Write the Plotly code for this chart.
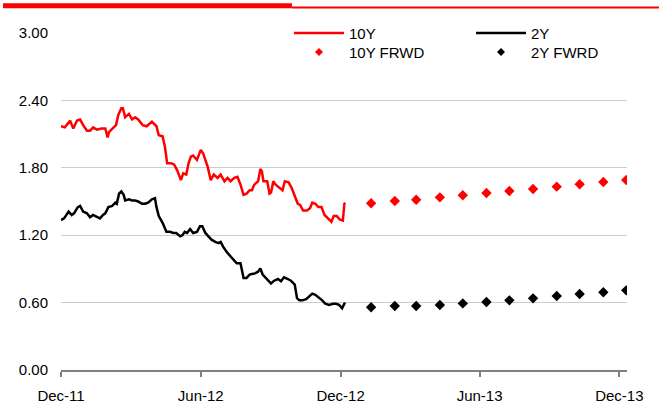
import plotly.graph_objects as go

# historical yields
dates_10y = ['2011-12-01', '2011-12-06', '2011-12-13', '2011-12-17', '2011-12-22', '2011-12-26', '2011-12-30',
             '2012-01-04', '2012-01-08', '2012-01-12', '2012-01-17', '2012-01-23', '2012-01-28', '2012-01-31',
             '2012-02-02', '2012-02-06', '2012-02-11', '2012-02-14', '2012-02-18', '2012-02-20', '2012-02-23',
             '2012-02-28', '2012-03-03', '2012-03-07', '2012-03-11', '2012-03-17', '2012-03-22', '2012-03-29',
             '2012-04-02', '2012-04-04', '2012-04-07', '2012-04-12', '2012-04-15', '2012-04-18', '2012-04-23',
             '2012-04-27', '2012-05-01', '2012-05-06', '2012-05-09', '2012-05-13', '2012-05-16', '2012-05-19',
             '2012-05-22', '2012-05-27', '2012-06-01', '2012-06-04', '2012-06-10', '2012-06-14', '2012-06-18',
             '2012-06-23', '2012-06-27', '2012-07-02', '2012-07-06', '2012-07-10', '2012-07-15', '2012-07-19',
             '2012-07-23', '2012-07-27', '2012-07-31', '2012-08-04', '2012-08-07', '2012-08-10', '2012-08-15',
             '2012-08-18', '2012-08-20', '2012-08-22', '2012-08-27', '2012-08-30', '2012-09-01', '2012-09-04',
             '2012-09-07', '2012-09-11', '2012-09-16', '2012-09-19', '2012-09-24', '2012-09-28', '2012-10-02',
             '2012-10-06', '2012-10-09', '2012-10-13', '2012-10-18', '2012-10-22', '2012-10-25', '2012-10-29',
             '2012-11-02', '2012-11-06', '2012-11-10', '2012-11-14', '2012-11-19', '2012-11-22', '2012-11-26',
             '2012-11-30', '2012-12-04', '2012-12-06', '2012-12-07']
yield_10y = [2.17, 2.16, 2.22, 2.15, 2.22, 2.23, 2.18,
             2.13, 2.13, 2.16, 2.14, 2.15, 2.15, 2.07,
             2.12, 2.15, 2.18, 2.27, 2.33, 2.33, 2.25,
             2.28, 2.23, 2.25, 2.23, 2.18, 2.17, 2.21,
             2.18, 2.17, 2.09, 2.08, 1.99, 1.84, 1.84,
             1.83, 1.78, 1.69, 1.75, 1.74, 1.84, 1.90,
             1.91, 1.87, 1.96, 1.93, 1.81, 1.69, 1.74,
             1.71, 1.74, 1.68, 1.71, 1.68, 1.71, 1.72,
             1.65, 1.56, 1.57, 1.60, 1.60, 1.65, 1.68,
             1.79, 1.77, 1.68, 1.68, 1.57, 1.58, 1.68,
             1.65, 1.63, 1.60, 1.68, 1.67, 1.62, 1.54,
             1.48, 1.47, 1.42, 1.42, 1.44, 1.49, 1.48,
             1.45, 1.45, 1.38, 1.35, 1.32, 1.37, 1.37,
             1.34, 1.33, 1.48, 1.49]

dates_2y = ['2011-12-01', '2011-12-05', '2011-12-11', '2011-12-15', '2011-12-18', '2011-12-23', '2011-12-26',
            '2011-12-30', '2012-01-04', '2012-01-08', '2012-01-12', '2012-01-17', '2012-01-21', '2012-01-25',
            '2012-01-28', '2012-02-01', '2012-02-06', '2012-02-10', '2012-02-12', '2012-02-15', '2012-02-18',
            '2012-02-21', '2012-02-23', '2012-02-28', '2012-03-03', '2012-03-07', '2012-03-11', '2012-03-16',
            '2012-03-20', '2012-03-24', '2012-03-29', '2012-04-02', '2012-04-04', '2012-04-07', '2012-04-12',
            '2012-04-17', '2012-04-22', '2012-04-26', '2012-04-30', '2012-05-05', '2012-05-08', '2012-05-11',
            '2012-05-14', '2012-05-18', '2012-05-22', '2012-05-27', '2012-05-31', '2012-06-03', '2012-06-07',
            '2012-06-11', '2012-06-15', '2012-06-20', '2012-06-24', '2012-06-27', '2012-06-30', '2012-07-05',
            '2012-07-09', '2012-07-14', '2012-07-18', '2012-07-23', '2012-07-27', '2012-07-31', '2012-08-04',
            '2012-08-07', '2012-08-11', '2012-08-15', '2012-08-18', '2012-08-21', '2012-08-24', '2012-08-29',
            '2012-09-01', '2012-09-05', '2012-09-10', '2012-09-14', '2012-09-18', '2012-09-23', '2012-09-27',
            '2012-10-02', '2012-10-05', '2012-10-08', '2012-10-12', '2012-10-17', '2012-10-21', '2012-10-25',
            '2012-10-29', '2012-11-02', '2012-11-07', '2012-11-11', '2012-11-16', '2012-11-21', '2012-11-25',
            '2012-11-29', '2012-12-03', '2012-12-06', '2012-12-07']
yield_2y = [1.335, 1.35, 1.41, 1.38, 1.395, 1.45, 1.46,
            1.41, 1.395, 1.36, 1.38, 1.36, 1.35, 1.38,
            1.395, 1.45, 1.46, 1.49, 1.48, 1.57, 1.59,
            1.56, 1.51, 1.52, 1.51, 1.51, 1.50, 1.48,
            1.48, 1.49, 1.52, 1.53, 1.45, 1.37, 1.31,
            1.23, 1.23, 1.22, 1.22, 1.19, 1.20, 1.23,
            1.22, 1.255, 1.22, 1.23, 1.28, 1.28, 1.22,
            1.19, 1.16, 1.14, 1.13, 1.14, 1.10, 1.05,
            1.02, 0.98, 0.95, 0.95, 0.82, 0.82, 0.85,
            0.855, 0.86, 0.875, 0.905, 0.85, 0.83, 0.79,
            0.77, 0.795, 0.81, 0.79, 0.825, 0.81, 0.795,
            0.76, 0.64, 0.62, 0.62, 0.63, 0.66, 0.68,
            0.67, 0.65, 0.62, 0.59, 0.58, 0.59, 0.59,
            0.58, 0.55, 0.59, 0.60]

# forward rates, monthly
dates_fwd = ['2013-01-10', '2013-02-10', '2013-03-10', '2013-04-10', '2013-05-10', '2013-06-10',
             '2013-07-10', '2013-08-10', '2013-09-10', '2013-10-10', '2013-11-10', '2013-12-10']
fwd_10y = [1.484, 1.504, 1.516, 1.537, 1.555, 1.576, 1.594, 1.611, 1.632, 1.653, 1.674, 1.691]
fwd_2y = [0.558, 0.570, 0.570, 0.579, 0.593, 0.605, 0.620, 0.638, 0.659, 0.677, 0.692, 0.709]

tick_dates = ['2011-12-01', '2012-06-01', '2012-12-01', '2013-06-01', '2013-12-01']
y_ticks = [0, 0.6, 1.2, 1.8, 2.4, 3.0]

FONT = 'Liberation Sans, Arial, sans-serif'
RED = '#ff0000'
BLACK = '#000000'

fig = go.Figure()
fig.add_scatter(x=dates_10y, y=yield_10y, mode='lines', name='10Y',
                line=dict(color=RED, width=2.5))
fig.add_scatter(x=dates_2y, y=yield_2y, mode='lines', name='2Y',
                line=dict(color=BLACK, width=2.5))
fig.add_scatter(x=dates_fwd, y=fwd_10y, mode='markers', name='10Y FRWD',
                marker=dict(color=RED, symbol='diamond', size=8))
fig.add_scatter(x=dates_fwd, y=fwd_2y, mode='markers', name='2Y FWRD',
                marker=dict(color=BLACK, symbol='diamond', size=8))

# hand-built 2x2 legend (paper coords of the plot area)
col1, col2 = 0.4558, 0.7774      # symbol centres
row1, row2 = 1.0, 0.9436
shapes = [
    # thick red band top-left and thin red rule across the page
    dict(type='rect', xref='paper', yref='paper', x0=-0.1025, x1=0.408, y0=1.0733, y1=1.0881,
         fillcolor=RED, line=dict(width=0)),
    dict(type='line', xref='paper', yref='paper', x0=0.408, x1=1.1, y0=1.0757, y1=1.0757,
         line=dict(color=RED, width=2)),
    # legend area hides the top gridline
    dict(type='rect', xref='paper', yref='y', x0=0.369, x1=1.0, y0=2.97, y1=3.03,
         fillcolor='white', line=dict(width=0), layer='above'),
]
annotations = []
legend_items = [('10Y', RED, 'line', col1, row1), ('2Y', BLACK, 'line', col2, row1),
                ('10Y FRWD', RED, 'diamond', col1, row2), ('2Y FWRD', BLACK, 'diamond', col2, row2)]
for label, color, kind, cx, cy in legend_items:
    if kind == 'line':
        shapes.append(dict(type='line', xref='paper', yref='paper',
                           x0=cx - 0.0442, x1=cx + 0.0442, y0=cy, y1=cy,
                           line=dict(color=color, width=2.5)))
    else:
        shapes.append(dict(type='path', xref='paper', yref='paper',
                           xsizemode='pixel', ysizemode='pixel', xanchor=cx, yanchor=cy,
                           path='M-4,0 L0,4 L4,0 L0,-4 Z',
                           fillcolor=color, line=dict(width=0)))
    annotations.append(dict(text=label, xref='paper', yref='paper', x=cx + 0.0495, y=cy,
                            xanchor='left', yanchor='middle', showarrow=False,
                            font=dict(family=FONT, size=15, color=BLACK)))

fig.update_layout(
    width=659, height=418,
    margin=dict(l=61, r=32, t=33, b=48),
    paper_bgcolor='white', plot_bgcolor='white',
    font=dict(family=FONT, size=15, color=BLACK),
    showlegend=False,
    xaxis=dict(type='date', range=['2011-12-01', '2013-12-11'],
               tickvals=tick_dates, tickformat='%b-%y',
               showgrid=False, zeroline=False,
               showline=True, linecolor='#7f7f7f', linewidth=1.5,
               ticks='outside', ticklen=5, tickcolor='#7f7f7f', tickwidth=1.5,
               ticklabelstandoff=6),
    yaxis=dict(range=[0, 3.0], tickvals=y_ticks, tickformat='.2f',
               showgrid=True, gridcolor='#cccccc', gridwidth=1,
               zeroline=False, showline=False, ticks='',
               ticklabelstandoff=12),
    shapes=shapes,
    annotations=annotations,
)

# drop the default page margin so the figure sits at the window's corner
fig.write_html("out.html", config={'displayModeBar': False},
               post_script="document.body.style.margin='0';")
